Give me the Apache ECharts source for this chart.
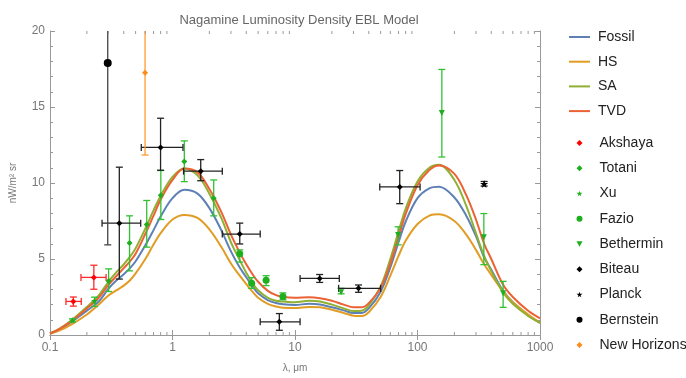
<!DOCTYPE html>
<html><head><meta charset="utf-8">
<script src="https://cdn.jsdelivr.net/npm/echarts@6/dist/echarts.min.js"></script>
<style>html,body{margin:0;padding:0;background:#fff}#c{width:686px;height:378px}</style>
</head><body><div id="c"></div>
<script>
// ---- model curves (wavelength in micron, nW/m^2/sr) ----
const lambdaGrid = [0.1,0.12,0.15,0.2,0.25,0.3,0.35,0.4,0.45,0.5,0.6,0.7,0.8,1.0,1.25,1.6,2.0,2.5,3.0,3.5,4,4.5,5,6,7,8,10,13,16,20,25,30,35,40,50,60,70,80,100,125,150,200,250,300,350,400,500,600,800,1000];
const fossil = [0.1,0.36,0.87,1.6,2.2,3.05,3.6,4.0,4.4,4.85,5.9,6.9,7.8,9.0,9.55,9.3,8.35,6.9,5.5,4.5,3.8,3.2,2.75,2.3,2.1,2.02,1.98,2.05,2.0,1.82,1.62,1.45,1.45,1.75,2.85,4.45,6.1,7.45,9.0,9.65,9.75,9.05,7.85,6.5,5.1,4.3,2.9,2.15,1.3,0.8];
const hs     = [0.08,0.3,0.7,1.35,2.0,2.6,2.95,3.25,3.6,4.05,5.0,5.95,6.7,7.6,7.9,7.7,6.95,5.8,4.7,3.95,3.35,2.85,2.45,2.05,1.88,1.8,1.77,1.85,1.82,1.66,1.45,1.27,1.25,1.5,2.5,3.9,5.2,6.2,7.3,7.85,7.94,7.5,6.6,5.6,4.65,3.95,2.85,2.15,1.35,0.82];
const sa     = [0.1,0.42,0.97,1.85,2.6,3.5,4.15,4.65,5.15,5.7,7.0,8.2,9.15,10.4,10.95,10.5,9.3,7.7,6.1,5.0,4.1,3.4,2.95,2.45,2.25,2.2,2.15,2.25,2.2,2.0,1.75,1.58,1.6,1.95,3.2,5.0,6.8,8.3,10.1,11.0,11.2,10.2,8.5,6.7,5.2,4.2,2.8,2.05,1.25,0.8];
const tvd    = [0.1,0.4,0.93,1.75,2.45,3.3,3.9,4.4,4.85,5.35,6.65,7.85,8.9,10.2,10.95,10.7,9.6,8.1,6.6,5.5,4.65,4.0,3.5,2.9,2.62,2.5,2.45,2.48,2.42,2.25,2.0,1.82,1.82,2.1,3.1,4.7,6.45,7.95,9.85,10.85,11.15,10.6,9.2,7.6,6.0,5.0,3.3,2.5,1.6,1.1];

// ---- measurements: [lambda, value, lambdaLo, lambdaHi, valueLo, valueHi] (0 = no bar) ----
const akshaya = [[0.155,2.21,0.135,0.180,1.9,2.5],[0.228,3.79,0.179,0.287,3.01,4.59]];
const totani = [[0.301,3.55,0,0,2.86,4.35],[0.446,6.06,0,0,4.22,7.84],[0.616,7.27,0,0,5.78,8.85],[0.803,9.2,0,0,7.6,10.82],[1.249,11.41,0,0,10.09,12.77],[2.17,9.0,0,0,7.84,10.2]];
const xu = [[0.153,0.97,0,0,0.87,1.07],[0.231,2.25,0,0,1.88,2.49]];
const fazio = [[3.54,5.35,0,0,4.8,5.6],[4.43,3.40,0,0,3.07,3.77],[5.81,3.61,0,0,3.25,3.9],[7.97,2.53,0,0,2.32,2.77]];
const bethermin = [[23.8,2.81,0,0,2.71,3.07],[69.5,6.58,0,0,5.93,7.12],[158,14.61,0,0,11.71,17.47],[348,6.43,0,0,4.63,7.99],[500,2.75,0,0,1.82,3.53]];
const biteau = [[0.368,7.36,0.266,0.55,3.68,11.04],[0.799,12.34,0.556,1.218,10.84,14.26],[1.70,10.78,1.23,2.55,10.15,11.54],[3.54,6.64,2.55,5.2,5.99,7.36],[7.45,0.87,5.2,11.0,0.31,1.41],[15.9,3.72,11.0,23.0,3.46,3.98],[33.0,3.07,22.7,50.0,2.81,3.29],[71.6,9.74,49.2,105,8.64,10.82]];
const planck = [[350,9.94,0,0,9.8,10.1]];
const bernstein = [[0.296,17.9,0,0,5.93,30]];
const newHorizons = [[0.597,17.25,0,0,11.84,22.65]];

const xMin = 0.1, xMax = 1000, yMin = 0, yMax = 20, yInterval = 5;
const xMinorTicks = [];
[0.1,1,10,100].forEach(d=>{for(let k=2;k<=9;k++) xMinorTicks.push(+(d*k).toPrecision(3));});

const STAR = 'path://M50,0 L61,35 L98,35 L68,57 L79,91 L50,70 L21,91 L32,57 L2,35 L39,35 Z';
const DOWNTRI = 'path://M0,0 L10,0 L5,9 Z';
const GREEN = '#1fae1f', GREENBAR = '#33c033';
const FONT = 'Liberation Sans, Arial, sans-serif';

const chart = echarts.init(document.getElementById('c'), null, {renderer:'canvas'});

function lineSeries(name, vals, color){
  return {type:'line', name, data: lambdaGrid.map((x,i)=>[x, vals[i]]), showSymbol:false, symbol:'none', smooth:0.35,
    lineStyle:{color, width:2}, itemStyle:{color}, z:2, clip:true, silent:true};
}
function errSeries(arr, color){
  return {type:'custom', silent:true, z:3, clip:true, xAxisIndex:0, yAxisIndex:0,
    data: arr.map(d=>d.slice()), encode:{x:0, y:1},
    renderItem:(params, api)=>{
      const x=api.value(0), xl=api.value(2), xh=api.value(3), yl=api.value(4), yh=api.value(5), y=api.value(1);
      const st={stroke:color, lineWidth:1.3}; const cap=3.5; const ch=[];
      if(yh>0){
        const top=Math.min(yh,yMax); const a=api.coord([x,yl]), b=api.coord([x,top]);
        ch.push({type:'line',shape:{x1:a[0],y1:a[1],x2:b[0],y2:b[1]},style:st});
        ch.push({type:'line',shape:{x1:a[0]-cap,y1:a[1],x2:a[0]+cap,y2:a[1]},style:st});
        if(yh<=yMax) ch.push({type:'line',shape:{x1:b[0]-cap,y1:b[1],x2:b[0]+cap,y2:b[1]},style:st});
      }
      if(xh>0){
        const a=api.coord([xl,y]), b=api.coord([xh,y]);
        ch.push({type:'line',shape:{x1:a[0],y1:a[1],x2:b[0],y2:b[1]},style:st});
        ch.push({type:'line',shape:{x1:a[0],y1:a[1]-cap,x2:a[0],y2:a[1]+cap},style:st});
        ch.push({type:'line',shape:{x1:b[0],y1:b[1]-cap,x2:b[0],y2:b[1]+cap},style:st});
      }
      return {type:'group',children:ch};
    }};
}
function pointSeries(name, arr, color, symbol, size){
  return {type:'scatter', name, data: arr.map(d=>[d[0],d[1]]), symbol, symbolSize:size,
    itemStyle:{color, opacity:1}, z:4, silent:true};
}
const minorTickSeries = {type:'custom', silent:true, z:5, clip:false, data: xMinorTicks.map(v=>[v]), encode:{x:0},
  renderItem:(params, api)=>{
    const b=api.coord([api.value(0), yMin]), t=api.coord([api.value(0), yMax]);
    const st={stroke:'#999', lineWidth:1};
    return {type:'group',children:[
      {type:'line',shape:{x1:b[0],y1:b[1],x2:b[0],y2:b[1]-3},style:st},
      {type:'line',shape:{x1:t[0],y1:t[1],x2:t[0],y2:t[1]+3},style:st}]};
  }};

const axisCommon = {axisLine:{show:true,lineStyle:{color:'#999',width:1}}, splitLine:{show:false}};
const labelStyle = {color:'#777', fontSize:12, fontFamily:FONT};

chart.setOption({
  animation:false,
  backgroundColor:'#fff',
  title:{text:'Nagamine Luminosity Density EBL Model', left:294, top:9, textAlign:'center',
    textStyle:{fontSize:13, fontWeight:'normal', color:'#666', fontFamily:FONT}},
  grid:{left:44.5, right:146, top:31, bottom:39, containLabel:false},
  xAxis:[
    Object.assign({type:'log', logBase:10, min:xMin, max:xMax, position:'bottom',
      name:'λ, μm', nameLocation:'middle', nameGap:28, nameTextStyle:{color:'#777', fontSize:10, fontFamily:FONT},
      axisTick:{inside:true, length:5, lineStyle:{color:'#999'}},
      axisLabel:Object.assign({margin:7, formatter:v=>String(v)}, labelStyle)}, axisCommon),
    Object.assign({type:'log', logBase:10, min:xMin, max:xMax, position:'top',
      axisTick:{inside:true, length:5, lineStyle:{color:'#999'}}, axisLabel:{show:false}}, axisCommon)
  ],
  yAxis:[
    Object.assign({type:'value', min:yMin, max:yMax, interval:yInterval, position:'left',
      name:'nW/m² sr', nameLocation:'middle', nameGap:32, nameRotate:90,
      nameTextStyle:{color:'#777', fontSize:10, fontFamily:FONT},
      axisTick:{inside:true, length:5, lineStyle:{color:'#999'}},
      minorTick:{show:true, splitNumber:5, length:3, lineStyle:{color:'#999'}},
      axisLabel:Object.assign({margin:5}, labelStyle)}, axisCommon),
    Object.assign({type:'value', min:yMin, max:yMax, interval:yInterval, position:'right',
      axisTick:{inside:true, length:5, lineStyle:{color:'#999'}},
      minorTick:{show:true, splitNumber:5, length:3, lineStyle:{color:'#999'}},
      axisLabel:{show:false}}, axisCommon)
  ],
  legend:[
    {orient:'vertical', left:569, top:29, padding:0, itemGap:8.7, itemWidth:21, itemHeight:2, icon:'rect',
      data:['Fossil','HS','SA','TVD'],
      textStyle:{fontSize:14, color:'#222', lineHeight:16, padding:[0,0,0,3], fontFamily:FONT}},
    {orient:'vertical', left:576.5, top:135, padding:0, itemGap:9.25, itemWidth:6, itemHeight:6,
      data:['Akshaya','Totani','Xu','Fazio','Bethermin','Biteau','Planck','Bernstein','New Horizons'],
      textStyle:{fontSize:14, color:'#222', lineHeight:16, padding:[0,0,0,12], fontFamily:FONT}}
  ],
  series:[
    lineSeries('Fossil', fossil, '#5E81B5'),
    lineSeries('HS', hs, '#E19C24'),
    lineSeries('SA', sa, '#8FB032'),
    lineSeries('TVD', tvd, '#EB6235'),
    errSeries(akshaya, '#ff2a2a'),
    errSeries(totani, GREENBAR),
    errSeries(xu, GREENBAR),
    errSeries(fazio, GREENBAR),
    errSeries(bethermin, GREENBAR),
    errSeries(biteau, '#222'),
    errSeries(planck, '#222'),
    errSeries(bernstein, '#444'),
    errSeries(newHorizons, '#ff9a30'),
    pointSeries('Akshaya', akshaya, '#ff0000', 'diamond', 6),
    pointSeries('Totani', totani, GREEN, 'diamond', 6),
    pointSeries('Xu', xu, GREEN, STAR, 7),
    pointSeries('Fazio', fazio, GREEN, 'circle', 7),
    pointSeries('Bethermin', bethermin, GREEN, DOWNTRI, 6),
    pointSeries('Biteau', biteau, '#000', 'diamond', 6),
    pointSeries('Planck', planck, '#000', STAR, 8),
    pointSeries('Bernstein', bernstein, '#000', 'circle', 8),
    pointSeries('New Horizons', newHorizons, '#ff8c1a', 'diamond', 6),
    minorTickSeries
  ]
});
</script></body></html>
